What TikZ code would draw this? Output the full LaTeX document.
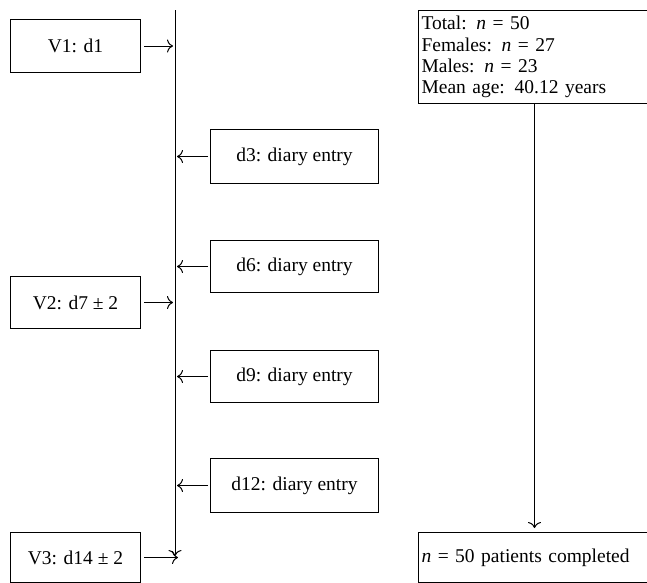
\documentclass[tikz,border=0pt]{standalone}
\usepackage{fontspec}
\setmainfont{Liberation Serif}
\usetikzlibrary{arrows.meta}
\tikzset{
  box/.style={draw, line width=1pt, rectangle, inner sep=3pt, font=\fontsize{19.5}{21.3}\selectfont},
  arr/.style={line width=1pt, -{To[length=6pt,width=13pt]}},
}
\begin{document}
\begin{tikzpicture}[x=1pt,y=-1pt]
\clip (0,0) rectangle (647,582);
\fill[white] (0,0) rectangle (647,582);
% timeline
\coordinate (t0) at (175,10);
\coordinate (t1) at (175,556);
\draw[arr] (t0) -- (t1);
% visit boxes
\node[box, minimum width=130pt, minimum height=53pt, anchor=north west] (v1) at (10,19) {V1: d1};
\node[box, minimum width=130pt, minimum height=52pt, anchor=north west] (v2) at (10,276) {V2: d7 ± 2};
\node[box, minimum width=130pt, minimum height=50pt, anchor=north west] (v3) at (10,532) {V3: d14 ± 2};
% diary boxes
\node[box, minimum width=168pt, minimum height=54pt, anchor=north west] (d3) at (210,129) {d3: diary entry};
\node[box, minimum width=168pt, minimum height=52pt, anchor=north west] (d6) at (210,240) {d6: diary entry};
\node[box, minimum width=168pt, minimum height=52pt, anchor=north west] (d9) at (210,350) {d9: diary entry};
\node[box, minimum width=168pt, minimum height=54pt, anchor=north west] (d12) at (210,458) {d12: diary entry};
% right boxes
\node[box, minimum width=232pt, minimum height=93pt, anchor=north west, align=left, text width=226pt] (tot) at (418,10)
  {Total: \textit{n} = 50\\Females: \textit{n} = 27\\Males: \textit{n} = 23\\Mean age: 40.12 years};
\node[box, minimum width=232pt, minimum height=50pt, anchor=north west, align=left, text width=226pt] (done) at (418,532)
  {\textit{n} = 50 patients completed};
% arrows
\draw[arr, shorten <=3pt, shorten >=2pt] (v1.east) -- (v1.east -| t0);
\draw[arr, shorten <=3pt, shorten >=2pt] (v2.east) -- (v2.east -| t0);
\draw[arr, shorten <=3pt, shorten >=-3pt] (v3.east) -- (v3.east -| t0);
\draw[arr, shorten <=2pt, shorten >=2pt] (d3.west) -- (d3.west -| t0);
\draw[arr, shorten <=2pt, shorten >=2pt] (d6.west) -- (d6.west -| t0);
\draw[arr, shorten <=2pt, shorten >=2pt] (d9.west) -- (d9.west -| t0);
\draw[arr, shorten <=2pt, shorten >=2pt] (d12.west) -- (d12.west -| t0);
\draw[arr, shorten >=4pt] (tot.south -| done.north) -- (done.north);
\end{tikzpicture}
\end{document}
